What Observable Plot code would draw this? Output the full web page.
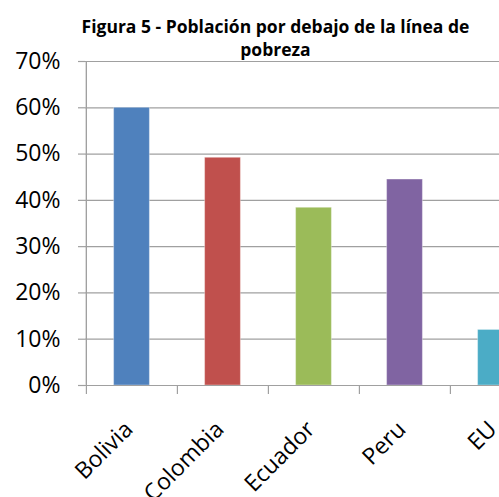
<!DOCTYPE html>
<html>
<head>
<meta charset="utf-8">
<script src="https://cdn.jsdelivr.net/npm/d3@7"></script>
<script src="https://cdn.jsdelivr.net/npm/@observablehq/plot@0.6"></script>
<style>
  html, body { margin: 0; padding: 0; background: #fff; overflow: hidden; width: 499px; height: 497px; }
  #title { width: 551px; padding-top: 15px; font: bold 17.5px "Open Sans", sans-serif; line-height: 23px; text-align: center; color: #000; }
  #chart { width: 560px; }
  #chart svg { display: block; margin-top: -12px; max-width: none !important; width: 560px !important; height: 447px !important; }
</style>
</head>
<body>
<div id="title">Figura 5 - Población por debajo de la línea de<br>pobreza</div>
<div id="chart"></div>
<script>
const countries = ["Bolivia", "Colombia", "Ecuador", "Peru", "EU"];
const values = [0.60, 0.492, 0.384, 0.445, 0.12];
const colors = ["#4F81BD", "#C0504D", "#9BBB59", "#8064A2", "#4BACC6"];
const yTicks = [0, 0.1, 0.2, 0.3, 0.4, 0.5, 0.6, 0.7];

const data = countries.map((c, i) => ({country: c, value: values[i], color: colors[i]}));

const width = 560, marginLeft = 85, marginRight = 19;
const step = (width - marginLeft - marginRight) / countries.length;
const barWidth = 36;
const inset = (step - barWidth) / 2;
const gray = "#a0a0a0";

const chart = Plot.plot({
  width,
  height: 447,
  marginTop: 12,
  marginBottom: 111,
  marginLeft,
  marginRight,
  style: {fontFamily: "'Open Sans', sans-serif", color: "#000", overflow: "visible", maxWidth: "none"},
  x: {domain: countries, padding: 0, axis: null},
  y: {domain: [0, 0.7], axis: null},
  color: {type: "identity"},
  marks: [
    Plot.gridY(yTicks, {stroke: gray, strokeOpacity: 1, strokeWidth: 1.2}),
    Plot.barY(data, {x: "country", y: "value", fill: "color", insetLeft: inset, insetRight: inset, stroke: "#fff", strokeOpacity: 0.35, strokeWidth: 1}),
    Plot.ruleY([0], {stroke: gray, strokeWidth: 1.2}),
    Plot.ruleX([0, 0.7], {x: () => countries[0], dx: -step / 2, y1: 0, y2: 0.7, stroke: gray, strokeWidth: 1.2}),
    Plot.axisY({ticks: yTicks, tickFormat: d3.format(".0%"), tickSize: 7, tickPadding: 18, fontSize: 23, stroke: gray, strokeWidth: 1.2, label: null}),
    Plot.axisX({ticks: countries, tickSize: 9, tickFormat: () => "", dx: -step / 2, stroke: gray, strokeWidth: 1.2, label: null}),
    Plot.axisX({ticks: countries, tickSize: 0, tickPadding: 40, tickRotate: -45, dx: -3, fontSize: 23, label: null})
  ]
});
document.getElementById("chart").appendChild(chart);
</script>
</body>
</html>
